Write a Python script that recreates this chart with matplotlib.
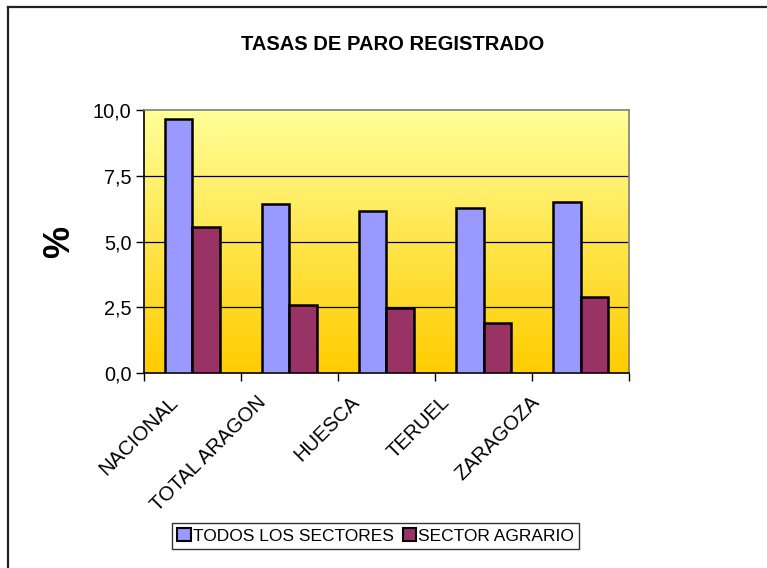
import numpy as np
import matplotlib
matplotlib.use("Agg")
import matplotlib.pyplot as plt
from matplotlib.colors import LinearSegmentedColormap
from matplotlib.lines import Line2D
from matplotlib.transforms import ScaledTranslation

plt.rcParams['font.family'] = ['Liberation Sans', 'DejaVu Sans']

# Tasas de paro registrado (%)
categorias = ['NACIONAL', 'TOTAL ARAGON', 'HUESCA', 'TERUEL', 'ZARAGOZA']
todos_sectores = [9.65, 6.42, 6.15, 6.26, 6.52]
sector_agrario = [5.55, 2.57, 2.49, 1.90, 2.88]
series_nombres = ['TODOS LOS SECTORES', 'SECTOR AGRARIO']
yticks = [0.0, 2.5, 5.0, 7.5, 10.0]

color_todos = '#9999FF'
color_agrario = '#993366'

fig = plt.figure(figsize=(7.67, 5.68), dpi=100)
ax = fig.add_axes([0.1877, 0.3433, 0.6324, 0.4630])

n = len(categorias)
x = np.arange(n)
ancho = 0.286

# fondo degradado del area de trazado
fondo = LinearSegmentedColormap.from_list('fondo', ['#FFCC00', '#FFFF99'])
grad = np.linspace(0, 1, 256).reshape(-1, 1)
ax.imshow(grad, cmap=fondo, aspect='auto', origin='lower',
          extent=[-0.5, n - 0.5, 0, 10], zorder=0)

for yv in yticks[1:-1]:
    ax.axhline(yv, color='black', lw=0.9, zorder=1)

ax.bar(x - ancho / 2, todos_sectores, ancho, color=color_todos,
       edgecolor='black', linewidth=1.8, label=series_nombres[0], zorder=3)
ax.bar(x + ancho / 2, sector_agrario, ancho, color=color_agrario,
       edgecolor='black', linewidth=1.8, label=series_nombres[1], zorder=3)

ax.set_xlim(-0.5, n - 0.5)
ax.set_ylim(0, 10)
ax.set_yticks(yticks)
ax.set_yticklabels([f'{v:.1f}'.replace('.', ',') for v in yticks], fontsize=14.3)
ax.tick_params(axis='y', direction='out', length=6, width=1, pad=3)

ax.set_xticks(x)
ax.set_xticklabels(categorias, rotation=45, ha='right', rotation_mode='anchor',
                   fontsize=14.5)
ax.tick_params(axis='x', length=0, pad=14)
ax.set_xticks(np.arange(-0.5, n), minor=True)
ax.tick_params(axis='x', which='minor', direction='out', length=6, width=1)

# desplazamiento horizontal de las etiquetas giradas (px)
desplaz = [-24, -33, -37, -44, -51]
for lbl, dx in zip(ax.get_xticklabels(), desplaz):
    lbl.set_transform(lbl.get_transform() +
                      ScaledTranslation(dx / 100, 0, fig.dpi_scale_trans))

ax.spines['left'].set_color('black')
ax.spines['bottom'].set_color('black')
ax.spines['top'].set_color('#808080')
ax.spines['right'].set_color('#808080')
for s in ax.spines.values():
    s.set_linewidth(1.2)

ax.set_ylabel('%', fontsize=26, fontweight='bold', labelpad=11)

fig.text(0.512, 0.921, 'TASAS DE PARO REGISTRADO', ha='center', va='center',
         fontsize=14.5, fontweight='bold')

leg = fig.legend(loc='center', bbox_to_anchor=(0.490, 0.0563), ncol=2,
                 fontsize=12.5, frameon=True, fancybox=False,
                 edgecolor='black', handlelength=0.75, handleheight=0.75,
                 handletextpad=0.15, columnspacing=0.5, borderpad=0.3,
                 borderaxespad=0)
leg.get_frame().set_linewidth(1.0)
for h in leg.legend_handles:
    h.set_linewidth(1.5)

# marco del grafico (solo lados izquierdo y superior)
fig.add_artist(Line2D([7.5 / 767, 7.5 / 767], [0, 1 - 6.5 / 568],
                      transform=fig.transFigure, color='#222222', lw=1.6))
fig.add_artist(Line2D([7.5 / 767, 1], [1 - 6.5 / 568, 1 - 6.5 / 568],
                      transform=fig.transFigure, color='#222222', lw=1.6))

fig.savefig('out.png', dpi=100)
